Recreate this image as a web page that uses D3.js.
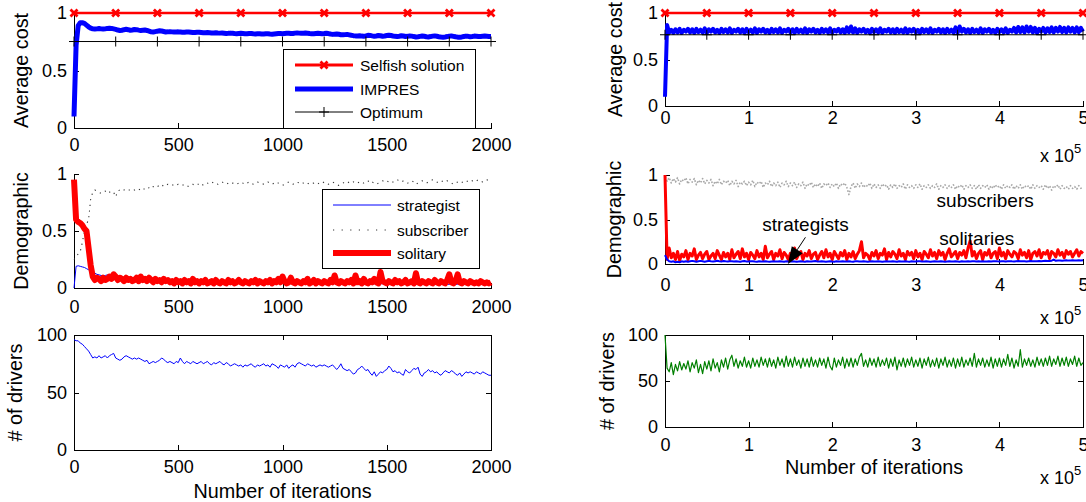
<!DOCTYPE html>
<html>
<head>
<meta charset="utf-8">
<script src="https://cdn.jsdelivr.net/npm/d3@7"></script>
<style>
  html, body { margin: 0; padding: 0; background: #fff; }
  svg { display: block; font-family: "Liberation Sans", Arial, Helvetica, sans-serif; }
</style>
</head>
<body>
<script>
// ---------- short run: 0..2000 iterations ----------
const shortMaxIter = 2000;
const shortXTicks = [0, 500, 1000, 1500, 2000];
const shortMarkerIters = [0, 200, 400, 600, 800, 1000, 1200, 1400, 1600, 1800, 2000];
const shortSelfish = [1, 1, 1, 1, 1, 1, 1, 1, 1, 1, 1];
const shortOptimum = [0.752, 0.752, 0.752, 0.752, 0.752, 0.752, 0.752, 0.752, 0.752, 0.752, 0.752];

// average cost of IMPRES, one value every 10 iterations
const shortImpres = [
  0.10, 0.72, 0.89, 0.915, 0.915, 0.91, 0.895, 0.88, 0.868, 0.862,
  0.86, 0.862, 0.865, 0.862, 0.86, 0.862, 0.866, 0.868, 0.866, 0.862,
  0.858, 0.852, 0.848, 0.85, 0.855, 0.858, 0.855, 0.85, 0.852, 0.856,
  0.855, 0.851, 0.848, 0.85, 0.852, 0.848, 0.842, 0.836, 0.834, 0.838,
  0.842, 0.845, 0.843, 0.839, 0.835, 0.836, 0.838, 0.836, 0.834, 0.835,
  0.836, 0.834, 0.832, 0.833, 0.835, 0.834, 0.832, 0.83, 0.831, 0.833,
  0.832, 0.83, 0.828, 0.829, 0.83, 0.828, 0.826, 0.827, 0.828, 0.826,
  0.825, 0.826, 0.824, 0.822, 0.823, 0.825, 0.823, 0.821, 0.82, 0.822,
  0.823, 0.821, 0.819, 0.82, 0.822, 0.821, 0.819, 0.818, 0.82, 0.819,
  0.817, 0.818, 0.82, 0.819, 0.817, 0.816, 0.818, 0.82, 0.822, 0.821,
  0.82, 0.822, 0.824, 0.823, 0.821, 0.822, 0.825, 0.826, 0.825, 0.823,
  0.824, 0.826, 0.824, 0.821, 0.819, 0.82, 0.822, 0.824, 0.822, 0.82,
  0.821, 0.823, 0.821, 0.817, 0.814, 0.816, 0.818, 0.815, 0.811, 0.81,
  0.812, 0.814, 0.81, 0.806, 0.803, 0.801, 0.8, 0.802, 0.799, 0.798,
  0.801, 0.806, 0.805, 0.801, 0.798, 0.8, 0.804, 0.802, 0.798, 0.8,
  0.804, 0.807, 0.804, 0.8, 0.797, 0.795, 0.798, 0.802, 0.8, 0.796,
  0.797, 0.801, 0.799, 0.795, 0.792, 0.794, 0.797, 0.8, 0.798, 0.794,
  0.792, 0.795, 0.799, 0.801, 0.798, 0.794, 0.791, 0.79, 0.792, 0.795,
  0.799, 0.801, 0.797, 0.793, 0.79, 0.789, 0.792, 0.796, 0.799, 0.797,
  0.794, 0.796, 0.799, 0.798, 0.795, 0.796, 0.798, 0.8, 0.798, 0.796, 0.796
];

// population shares, one value every 10 iterations
const shortStrategist = [
  0, 0.19, 0.195, 0.19, 0.185, 0.18, 0.17, 0.16, 0.15, 0.14,
  0.13, 0.12, 0.115, 0.11, 0.105, 0.11, 0.115, 0.11, 0.105, 0.1,
  0.095, 0.09, 0.085, 0.08, 0.078, 0.075, 0.072, 0.07, 0.068, 0.066,
  0.065, 0.064, 0.062, 0.06, 0.06, 0.058, 0.057, 0.056, 0.055, 0.055,
  0.054, 0.055, 0.053, 0.052, 0.054, 0.055, 0.056, 0.058, 0.06, 0.062,
  0.065, 0.068, 0.07, 0.07, 0.072, 0.07, 0.066, 0.062, 0.058, 0.055,
  0.052, 0.05, 0.05, 0.048, 0.047, 0.046, 0.045, 0.045, 0.044, 0.044,
  0.043, 0.044, 0.043, 0.042, 0.043, 0.044, 0.043, 0.042, 0.041, 0.042,
  0.043, 0.042, 0.041, 0.042, 0.043, 0.042, 0.041, 0.04, 0.041, 0.042,
  0.041, 0.04, 0.041, 0.042, 0.041, 0.04, 0.041, 0.042, 0.043, 0.044,
  0.045, 0.048, 0.05, 0.052, 0.055, 0.054, 0.05, 0.047, 0.045, 0.043,
  0.042, 0.041, 0.04, 0.041, 0.042, 0.041, 0.04, 0.039, 0.04, 0.041,
  0.04, 0.039, 0.04, 0.041, 0.04, 0.039, 0.038, 0.039, 0.04, 0.039,
  0.038, 0.039, 0.04, 0.039, 0.038, 0.037, 0.038, 0.039, 0.038, 0.037,
  0.038, 0.037, 0.036, 0.037, 0.038, 0.037, 0.036, 0.037, 0.038, 0.037,
  0.036, 0.037, 0.036, 0.035, 0.036, 0.037, 0.036, 0.035, 0.036, 0.035,
  0.034, 0.035, 0.036, 0.035, 0.034, 0.035, 0.034, 0.033, 0.034, 0.035,
  0.034, 0.033, 0.034, 0.035, 0.034, 0.033, 0.032, 0.033, 0.034, 0.033,
  0.032, 0.033, 0.034, 0.033, 0.032, 0.031, 0.032, 0.033, 0.032, 0.031,
  0.032, 0.031, 0.03, 0.031, 0.032, 0.031, 0.03, 0.031, 0.032, 0.031, 0.03
];
const shortSubscriber = [
  0.25, 0.27, 0.3, 0.32, 0.4, 0.5, 0.56, 0.6, 0.78, 0.84,
  0.86, 0.85, 0.84, 0.83, 0.84, 0.85, 0.83, 0.84, 0.85, 0.84,
  0.8, 0.85, 0.86, 0.85, 0.86, 0.87, 0.86, 0.86, 0.85, 0.86,
  0.87, 0.86, 0.87, 0.88, 0.86, 0.87, 0.88, 0.87, 0.89, 0.88,
  0.89, 0.9, 0.91, 0.89, 0.9, 0.91, 0.9, 0.9, 0.91, 0.9,
  0.91, 0.9, 0.9, 0.91, 0.9, 0.89, 0.9, 0.91, 0.9, 0.91,
  0.91, 0.92, 0.9, 0.91, 0.92, 0.91, 0.92, 0.93, 0.92, 0.91,
  0.92, 0.93, 0.92, 0.91, 0.92, 0.93, 0.92, 0.92, 0.91, 0.92,
  0.93, 0.92, 0.91, 0.92, 0.93, 0.92, 0.91, 0.92, 0.93, 0.92,
  0.92, 0.91, 0.92, 0.93, 0.92, 0.91, 0.92, 0.93, 0.92, 0.91,
  0.9, 0.91, 0.92, 0.93, 0.92, 0.91, 0.92, 0.93, 0.92, 0.93,
  0.92, 0.93, 0.92, 0.91, 0.92, 0.92, 0.93, 0.92, 0.91, 0.92,
  0.93, 0.92, 0.91, 0.92, 0.93, 0.92, 0.91, 0.9, 0.91, 0.92,
  0.93, 0.92, 0.93, 0.92, 0.93, 0.94, 0.93, 0.92, 0.93, 0.92,
  0.93, 0.94, 0.92, 0.93, 0.92, 0.91, 0.92, 0.93, 0.94, 0.93,
  0.94, 0.93, 0.92, 0.93, 0.94, 0.95, 0.94, 0.93, 0.94, 0.93,
  0.92, 0.93, 0.94, 0.93, 0.91, 0.92, 0.93, 0.94, 0.93, 0.92,
  0.93, 0.94, 0.95, 0.94, 0.93, 0.92, 0.93, 0.94, 0.93, 0.94,
  0.93, 0.92, 0.91, 0.92, 0.93, 0.94, 0.93, 0.92, 0.93, 0.94,
  0.95, 0.94, 0.93, 0.94, 0.95, 0.94, 0.93, 0.94, 0.95, 0.94, 0.94
];
const shortSolitary = [
  0.95, 0.6, 0.58, 0.57, 0.55, 0.52, 0.5, 0.35, 0.2, 0.1,
  0.07, 0.09, 0.08, 0.06, 0.09, 0.07, 0.08, 0.1, 0.08, 0.12,
  0.1, 0.07, 0.09, 0.08, 0.06, 0.09, 0.07, 0.08, 0.06, 0.07,
  0.09, 0.06, 0.1, 0.07, 0.08, 0.06, 0.09, 0.07, 0.05, 0.08,
  0.06, 0.07, 0.05, 0.08, 0.06, 0.07, 0.05, 0.06, 0.04, 0.07,
  0.05, 0.06, 0.04, 0.07, 0.05, 0.06, 0.04, 0.08, 0.05, 0.06,
  0.04, 0.06, 0.05, 0.07, 0.04, 0.05, 0.06, 0.04, 0.07, 0.05,
  0.04, 0.06, 0.05, 0.04, 0.07, 0.05, 0.06, 0.04, 0.05, 0.07,
  0.05, 0.04, 0.06, 0.05, 0.04, 0.06, 0.05, 0.07, 0.04, 0.06,
  0.05, 0.04, 0.06, 0.05, 0.07, 0.04, 0.06, 0.05, 0.08, 0.05,
  0.1, 0.06, 0.04, 0.05, 0.09, 0.05, 0.04, 0.06, 0.05, 0.04,
  0.06, 0.05, 0.08, 0.04, 0.05, 0.07, 0.04, 0.06, 0.05, 0.04,
  0.06, 0.05, 0.04, 0.07, 0.05, 0.11, 0.05, 0.04, 0.06, 0.05,
  0.04, 0.06, 0.05, 0.07, 0.04, 0.11, 0.05, 0.06, 0.04, 0.08,
  0.05, 0.04, 0.06, 0.05, 0.08, 0.05, 0.04, 0.14, 0.06, 0.05,
  0.04, 0.06, 0.05, 0.04, 0.07, 0.05, 0.06, 0.04, 0.05, 0.07,
  0.04, 0.05, 0.06, 0.04, 0.13, 0.05, 0.04, 0.06, 0.05, 0.04,
  0.06, 0.05, 0.04, 0.07, 0.05, 0.04, 0.06, 0.05, 0.04, 0.07,
  0.12, 0.05, 0.04, 0.06, 0.12, 0.05, 0.04, 0.06, 0.05, 0.04,
  0.06, 0.05, 0.04, 0.05, 0.04, 0.06, 0.05, 0.04, 0.05, 0.04, 0.05
];

// number of drivers, one value every 10 iterations
const shortDrivers = [
  96, 95, 95, 93, 92, 90, 88, 86, 83, 80,
  81, 80, 82, 80, 81, 82, 80, 82, 83, 84,
  80, 79, 78, 79, 81, 82, 81, 80, 79, 80,
  79, 80, 79, 78, 77, 78, 75, 76, 77, 76,
  77, 78, 80, 79, 77, 76, 77, 76, 75, 77,
  76, 80, 77, 75, 77, 76, 75, 77, 76, 75,
  76, 77, 75, 76, 77, 75, 74, 76, 75, 76,
  77, 75, 74, 76, 75, 73, 74, 75, 74, 73,
  74, 72, 74, 73, 74, 75, 73, 72, 74, 73,
  74, 75, 73, 74, 72, 75, 74, 73, 71, 74,
  73, 72, 74, 71, 73, 74, 72, 75, 76, 75,
  74, 73, 75, 74, 73, 74, 72, 73, 74, 73,
  74, 73, 72, 73, 74, 72, 70, 72, 75, 71,
  70, 69, 70, 68, 66, 67, 70, 71, 73, 71,
  69, 70, 67, 65, 68, 64, 66, 68, 67, 69,
  70, 73, 71, 68, 69, 67, 68, 66, 65, 70,
  68, 67, 69, 71, 70, 72, 66, 64, 67, 68,
  70, 68, 69, 67, 68, 66, 65, 67, 69, 68,
  67, 69, 68, 66, 65, 67, 64, 66, 68, 67,
  68, 67, 66, 68, 67, 66, 68, 67, 66, 65, 65
];

// ---------- long run: 0..5 x 10^5 iterations ----------
const longMax = 5;            // in units of 10^5 iterations
const longXTicks = [0, 1, 2, 3, 4, 5];
const longMarkerIters = [0, 0.5, 1, 1.5, 2, 2.5, 3, 3.5, 4, 4.5, 5];
const longSelfish = [1, 1, 1, 1, 1, 1, 1, 1, 1, 1, 1];
const longOptimum = [0.766, 0.766, 0.766, 0.766, 0.766, 0.766, 0.766, 0.766, 0.766, 0.766, 0.766];

// one value every 2500 iterations
const longImpres = [
  0.1, 0.87, 0.79, 0.82, 0.785, 0.825, 0.79, 0.83, 0.785, 0.82,
  0.8, 0.83, 0.79, 0.825, 0.785, 0.83, 0.795, 0.82, 0.79, 0.835,
  0.785, 0.825, 0.8, 0.83, 0.79, 0.82, 0.785, 0.83, 0.795, 0.825,
  0.79, 0.835, 0.785, 0.82, 0.8, 0.83, 0.79, 0.825, 0.785, 0.83,
  0.795, 0.82, 0.79, 0.835, 0.785, 0.825, 0.8, 0.83, 0.79, 0.82,
  0.785, 0.83, 0.795, 0.825, 0.79, 0.835, 0.785, 0.82, 0.8, 0.83,
  0.79, 0.825, 0.785, 0.83, 0.795, 0.82, 0.79, 0.835, 0.785, 0.825,
  0.8, 0.83, 0.79, 0.82, 0.785, 0.83, 0.795, 0.825, 0.79, 0.835,
  0.785, 0.82, 0.8, 0.83, 0.79, 0.825, 0.785, 0.845, 0.795, 0.855,
  0.79, 0.835, 0.785, 0.825, 0.8, 0.83, 0.79, 0.82, 0.785, 0.83,
  0.795, 0.825, 0.79, 0.835, 0.785, 0.82, 0.8, 0.83, 0.79, 0.825,
  0.785, 0.83, 0.795, 0.82, 0.79, 0.835, 0.785, 0.825, 0.8, 0.83,
  0.79, 0.82, 0.785, 0.83, 0.795, 0.825, 0.79, 0.835, 0.785, 0.82,
  0.8, 0.83, 0.79, 0.825, 0.785, 0.83, 0.795, 0.82, 0.79, 0.845,
  0.785, 0.855, 0.8, 0.83, 0.79, 0.825, 0.785, 0.83, 0.795, 0.82,
  0.79, 0.835, 0.785, 0.825, 0.8, 0.83, 0.79, 0.82, 0.785, 0.83,
  0.795, 0.825, 0.79, 0.835, 0.785, 0.82, 0.8, 0.84, 0.79, 0.85,
  0.795, 0.845, 0.79, 0.855, 0.8, 0.85, 0.79, 0.84, 0.785, 0.83,
  0.8, 0.84, 0.79, 0.835, 0.795, 0.845, 0.79, 0.84, 0.8, 0.85,
  0.795, 0.84, 0.79, 0.845, 0.8, 0.84, 0.79, 0.845, 0.795, 0.84, 0.8
];
const longSubscribers = [
  0.98, 0.93, 0.97, 0.91, 0.96, 0.92, 0.97, 0.9, 0.95, 0.93,
  0.97, 0.9, 0.95, 0.92, 0.96, 0.89, 0.94, 0.91, 0.96, 0.9,
  0.94, 0.91, 0.95, 0.88, 0.93, 0.9, 0.95, 0.89, 0.93, 0.91,
  0.94, 0.88, 0.93, 0.9, 0.94, 0.87, 0.92, 0.9, 0.93, 0.88,
  0.92, 0.89, 0.94, 0.87, 0.92, 0.9, 0.93, 0.86, 0.91, 0.89,
  0.93, 0.87, 0.91, 0.88, 0.92, 0.86, 0.91, 0.89, 0.93, 0.87,
  0.91, 0.88, 0.92, 0.86, 0.9, 0.88, 0.92, 0.85, 0.9, 0.88,
  0.92, 0.86, 0.9, 0.87, 0.91, 0.85, 0.9, 0.88, 0.91, 0.86,
  0.9, 0.87, 0.91, 0.85, 0.9, 0.88, 0.91, 0.86, 0.78, 0.87,
  0.91, 0.85, 0.9, 0.87, 0.91, 0.86, 0.89, 0.87, 0.91, 0.85,
  0.9, 0.86, 0.89, 0.85, 0.9, 0.87, 0.89, 0.84, 0.89, 0.86,
  0.9, 0.85, 0.88, 0.86, 0.9, 0.84, 0.89, 0.86, 0.88, 0.85,
  0.89, 0.86, 0.9, 0.84, 0.88, 0.86, 0.89, 0.85, 0.88, 0.86,
  0.9, 0.84, 0.88, 0.86, 0.89, 0.85, 0.88, 0.86, 0.89, 0.84,
  0.88, 0.86, 0.89, 0.84, 0.88, 0.86, 0.89, 0.85, 0.88, 0.84,
  0.89, 0.85, 0.88, 0.86, 0.89, 0.84, 0.88, 0.85, 0.89, 0.86,
  0.88, 0.84, 0.89, 0.85, 0.88, 0.86, 0.89, 0.84, 0.88, 0.85,
  0.89, 0.84, 0.88, 0.86, 0.88, 0.84, 0.89, 0.85, 0.88, 0.86,
  0.88, 0.84, 0.89, 0.85, 0.88, 0.83, 0.88, 0.86, 0.89, 0.84,
  0.88, 0.85, 0.87, 0.84, 0.88, 0.85, 0.87, 0.84, 0.88, 0.85, 0.86
];
const longSolitaries = [
  1.0, 0.05, 0.18, 0.07, 0.12, 0.05, 0.14, 0.04, 0.11, 0.08,
  0.15, 0.05, 0.12, 0.09, 0.17, 0.05, 0.1, 0.13, 0.06, 0.11,
  0.14, 0.05, 0.09, 0.12, 0.06, 0.15, 0.1, 0.05, 0.13, 0.08,
  0.12, 0.05, 0.16, 0.07, 0.11, 0.14, 0.06, 0.17, 0.08, 0.12,
  0.05, 0.13, 0.1, 0.06, 0.15, 0.08, 0.12, 0.05, 0.2, 0.07,
  0.11, 0.14, 0.05, 0.12, 0.09, 0.16, 0.06, 0.13, 0.1, 0.05,
  0.12, 0.08, 0.18, 0.06, 0.11, 0.14, 0.05, 0.12, 0.09, 0.15,
  0.06, 0.11, 0.13, 0.05, 0.1, 0.14, 0.07, 0.16, 0.08, 0.12,
  0.05, 0.14, 0.1, 0.06, 0.13, 0.09, 0.15, 0.05, 0.12, 0.08,
  0.14, 0.06, 0.11, 0.15, 0.25, 0.07, 0.12, 0.1, 0.05, 0.13,
  0.09, 0.15, 0.06, 0.12, 0.1, 0.17, 0.05, 0.13, 0.08, 0.14,
  0.11, 0.06, 0.16, 0.09, 0.12, 0.05, 0.14, 0.1, 0.13, 0.06,
  0.15, 0.08, 0.12, 0.05, 0.14, 0.11, 0.07, 0.16, 0.09, 0.13,
  0.06, 0.15, 0.1, 0.13, 0.05, 0.12, 0.17, 0.08, 0.11, 0.14,
  0.06, 0.13, 0.1, 0.15, 0.07, 0.18, 0.26, 0.09, 0.14, 0.06,
  0.12, 0.15, 0.05, 0.13, 0.1, 0.16, 0.07, 0.12, 0.14, 0.06,
  0.18, 0.09, 0.13, 0.06, 0.15, 0.11, 0.08, 0.14, 0.12, 0.06,
  0.16, 0.1, 0.13, 0.07, 0.15, 0.05, 0.12, 0.14, 0.09, 0.16,
  0.07, 0.13, 0.11, 0.15, 0.06, 0.14, 0.12, 0.08, 0.16, 0.1,
  0.13, 0.07, 0.15, 0.11, 0.14, 0.08, 0.12, 0.16, 0.09, 0.14, 0.12
];
const longStrategists = [
  0.1, 0.05, 0.03, 0.025, 0.03, 0.02, 0.025, 0.02, 0.03, 0.025,
  0.03, 0.025, 0.03, 0.035, 0.03, 0.025, 0.03, 0.035, 0.03, 0.025,
  0.03, 0.035, 0.03, 0.028, 0.032, 0.036, 0.03, 0.028, 0.033, 0.03,
  0.028, 0.032, 0.03, 0.027, 0.031, 0.029, 0.026, 0.03, 0.033, 0.029,
  0.027, 0.03, 0.032, 0.028, 0.026, 0.03, 0.029, 0.027, 0.031, 0.028,
  0.026, 0.029, 0.032, 0.028, 0.027, 0.03, 0.028, 0.026, 0.03, 0.029,
  0.027, 0.03, 0.028, 0.026, 0.029, 0.031, 0.028, 0.026, 0.03, 0.028,
  0.027, 0.03, 0.033, 0.029, 0.027, 0.03, 0.028, 0.026, 0.029, 0.031,
  0.028, 0.026, 0.03, 0.028, 0.027, 0.03, 0.029, 0.027, 0.031, 0.028,
  0.026, 0.03, 0.032, 0.029, 0.027, 0.03, 0.028, 0.026, 0.029, 0.031,
  0.028, 0.027, 0.03, 0.028, 0.026, 0.029, 0.031, 0.028, 0.027, 0.03,
  0.028, 0.026, 0.03, 0.029, 0.027, 0.031, 0.028, 0.026, 0.03, 0.028,
  0.027, 0.03, 0.032, 0.029, 0.027, 0.03, 0.028, 0.026, 0.029, 0.031,
  0.028, 0.027, 0.03, 0.028, 0.026, 0.029, 0.031, 0.028, 0.027, 0.03,
  0.028, 0.026, 0.03, 0.029, 0.027, 0.031, 0.028, 0.03, 0.032, 0.029,
  0.03, 0.028, 0.031, 0.029, 0.027, 0.03, 0.028, 0.03, 0.032, 0.03,
  0.029, 0.031, 0.03, 0.028, 0.03, 0.032, 0.03, 0.029, 0.031, 0.033,
  0.03, 0.032, 0.031, 0.029, 0.031, 0.033, 0.031, 0.03, 0.032, 0.034,
  0.032, 0.034, 0.036, 0.033, 0.035, 0.037, 0.05, 0.036, 0.038, 0.04,
  0.037, 0.039, 0.041, 0.038, 0.04, 0.042, 0.039, 0.04, 0.042, 0.04, 0.041
];
const longDrivers = [
  100, 64, 60, 70, 57, 68, 61, 71, 62, 69,
  63, 72, 60, 70, 64, 73, 59, 68, 58, 71,
  63, 72, 61, 74, 64, 70, 60, 73, 65, 75,
  63, 73, 78, 66, 74, 64, 72, 66, 76, 65,
  72, 64, 75, 66, 73, 65, 76, 67, 74, 65,
  75, 66, 73, 64, 76, 67, 74, 65, 77, 66,
  74, 65, 76, 67, 73, 64, 75, 66, 74, 65,
  76, 66, 73, 65, 75, 67, 74, 64, 76, 66,
  62, 75, 65, 73, 67, 76, 64, 74, 66, 75,
  65, 74, 67, 76, 80, 66, 73, 65, 75, 67,
  74, 65, 76, 66, 73, 67, 75, 64, 74, 66,
  76, 62, 73, 66, 75, 65, 74, 67, 76, 65,
  73, 66, 75, 64, 74, 67, 76, 65, 73, 66,
  75, 64, 74, 67, 76, 65, 73, 66, 75, 64,
  74, 66, 76, 65, 73, 67, 75, 66, 80, 65,
  74, 67, 75, 65, 73, 66, 76, 64, 74, 66,
  75, 65, 74, 67, 79, 66, 75, 64, 73, 66,
  84, 65, 74, 67, 75, 66, 73, 65, 76, 67,
  74, 66, 75, 67, 77, 66, 74, 68, 77, 66,
  75, 67, 76, 66, 74, 68, 77, 66, 75, 67, 70
];

// text annotations on the long-run demographic plot: [x (10^5), y]
const noteSubscribers = [3.83, 0.64];
const noteSolitaries = [3.73, 0.21];
const noteStrategists = [1.68, 0.37];
const arrowFrom = [1.68, 0.3];
const arrowTo = [1.47, 0.0];

// ---------- drawing ----------
const W = 1086, H = 502;
const svg = d3.select("body").append("svg").attr("width", W).attr("height", H);

const TICK_FONT = 18, LABEL_FONT = 19.8, LEGEND_FONT = 15.5;

function panel(cfg) {
  const x = d3.scaleLinear().domain(cfg.xDomain).range([cfg.left, cfg.right]);
  const y = d3.scaleLinear().domain(cfg.yDomain).range([cfg.bottom, cfg.top]);
  const g = svg.append("g");
  const axes = g.append("g");
  const style = sel => {
    sel.attr("font-family", null).attr("font-size", null);
    sel.selectAll("path.domain").attr("stroke", "#000").attr("stroke-width", 1).attr("shape-rendering", "crispEdges");
    sel.selectAll(".tick line").attr("stroke", "#000").attr("stroke-width", 1).attr("shape-rendering", "crispEdges");
    sel.selectAll(".tick text").attr("fill", "#000").style("font-size", TICK_FONT + "px");
  };
  axes.append("g").attr("transform", `translate(0,${cfg.bottom})`)
    .call(d3.axisBottom(x).tickValues(cfg.xTicks).tickSizeInner(-5).tickSizeOuter(0)
      .tickPadding(cfg.xPad).tickFormat(d3.format("~g"))).call(style);
  axes.append("g").attr("transform", `translate(${cfg.left},0)`)
    .call(d3.axisLeft(y).tickValues(cfg.yTicks).tickSizeInner(-5).tickSizeOuter(0)
      .tickPadding(7).tickFormat(d3.format("~g"))).call(style);
  if (cfg.box) {
    axes.append("g").attr("transform", `translate(0,${cfg.top})`)
      .call(d3.axisTop(x).tickValues(cfg.xTicks).tickSizeInner(-5).tickSizeOuter(0).tickFormat(""))
      .call(style);
    axes.append("g").attr("transform", `translate(${cfg.right},0)`)
      .call(d3.axisRight(y).tickValues(cfg.yTicks).tickSizeInner(-5).tickSizeOuter(0).tickFormat(""))
      .call(style);
  }
  // y title
  g.append("text")
    .attr("transform", `translate(${cfg.yTitleX},${(cfg.top + cfg.bottom) / 2}) rotate(-90)`)
    .attr("text-anchor", "middle").style("font-size", LABEL_FONT + "px").text(cfg.yTitle);
  if (cfg.xTitle) {
    g.append("text").attr("x", (cfg.left + cfg.right) / 2).attr("y", cfg.xTitleY)
      .attr("text-anchor", "middle").style("font-size", LABEL_FONT + "px").text(cfg.xTitle);
  }
  if (cfg.exponent) {
    const t = g.append("text").attr("x", cfg.right - 43).attr("y", cfg.exponentY)
      .style("font-size", TICK_FONT + "px");
    t.append("tspan").text("x 10");
    t.append("tspan").attr("dy", -9).style("font-size", "13px").text("5");
  }
  return { x, y, g };
}

function series(p, values, xMax, attrs) {
  const n = values.length;
  const line = d3.line().x((d, i) => p.x(i * xMax / (n - 1))).y(d => p.y(d));
  const path = p.g.append("path").datum(values).attr("d", line).attr("fill", "none")
    .attr("stroke-linejoin", "round");
  Object.entries(attrs).forEach(([k, v]) => path.attr(k, v));
  return path;
}

function markedLine(p, xs, ys, color, width, marker) {
  const line = d3.line().x((d, i) => p.x(xs[i])).y(d => p.y(d));
  p.g.append("path").datum(ys).attr("d", line).attr("fill", "none")
    .attr("stroke", color).attr("stroke-width", width);
  p.g.append("g").selectAll("path").data(ys).join("path")
    .attr("transform", (d, i) => `translate(${p.x(xs[i])},${p.y(d)})`)
    .attr("d", marker.d).attr("fill", "none").attr("stroke", color)
    .attr("stroke-width", marker.w);
}

const xMarker = { d: "M-3.5,-3.5L3.5,3.5M-3.5,3.5L3.5,-3.5", w: 2.8 };
const plusMarker = { d: "M-5,0H5M0,-5V5", w: 1 };

function legend(p, box, items) {
  const lg = p.g.append("g");
  lg.append("rect").attr("x", box.x0 + 0.5).attr("y", box.y0 + 0.5)
    .attr("width", box.x1 - box.x0).attr("height", box.y1 - box.y0)
    .attr("fill", "#fff").attr("stroke", "#000").attr("stroke-width", 1);
  items.forEach(it => {
    const l = lg.append("line").attr("x1", box.lineX0).attr("x2", box.lineX1)
      .attr("y1", it.y).attr("y2", it.y).attr("stroke", it.color).attr("stroke-width", it.width);
    if (it.dash) l.attr("stroke-dasharray", it.dash);
    if (it.marker) {
      lg.append("path").attr("transform", `translate(${(box.lineX0 + box.lineX1) / 2},${it.y})`)
        .attr("d", it.marker.d).attr("fill", "none").attr("stroke", it.color).attr("stroke-width", it.marker.w);
    }
    lg.append("text").attr("x", box.textX).attr("y", it.y + 5.5)
      .style("font-size", LEGEND_FONT + "px").text(it.label);
  });
}

// ----- left column: 2000 iterations -----
const L = { left: 74, right: 491 };
const costShort = panel({ ...L, top: 13, bottom: 128, xDomain: [0, shortMaxIter], yDomain: [0, 1],
  xTicks: shortXTicks, yTicks: [0, 0.5, 1], xPad: 10, yTitle: "Average cost", yTitleX: 28 });
markedLine(costShort, shortMarkerIters, shortSelfish, "#ff0000", 2.5, xMarker);
series(costShort, shortImpres, shortMaxIter, { stroke: "#0000ff", "stroke-width": 5 });
markedLine(costShort, shortMarkerIters, shortOptimum, "#000", 1, plusMarker);
legend(costShort, { x0: 283, x1: 475, y0: 49, y1: 128, lineX0: 295, lineX1: 353, textX: 360 }, [
  { y: 65, color: "#ff0000", width: 3, marker: xMarker, label: "Selfish solution" },
  { y: 89, color: "#0000ff", width: 5, label: "IMPRES" },
  { y: 112, color: "#000", width: 1, marker: plusMarker, label: "Optimum" }
]);

const demoShort = panel({ ...L, top: 174, bottom: 288, xDomain: [0, shortMaxIter], yDomain: [0, 1],
  xTicks: shortXTicks, yTicks: [0, 0.5, 1], xPad: 12, yTitle: "Demographic", yTitleX: 28 });
series(demoShort, shortStrategist, shortMaxIter, { stroke: "#0000ff", "stroke-width": 1 });
series(demoShort, shortSubscriber, shortMaxIter, { stroke: "#333", "stroke-width": 1.1, "stroke-dasharray": "1.2,4.5" });
series(demoShort, shortSolitary, shortMaxIter, { stroke: "#ff0000", "stroke-width": 6 });
legend(demoShort, { x0: 322, x1: 479, y0: 189, y1: 268, lineX0: 333, lineX1: 391, textX: 397 }, [
  { y: 205, color: "#0000ff", width: 1, label: "strategist" },
  { y: 230, color: "#333", width: 1.1, dash: "1.2,7.4", label: "subscriber" },
  { y: 253, color: "#ff0000", width: 6, label: "solitary" }
]);

const drvShort = panel({ ...L, top: 335, bottom: 450, xDomain: [0, shortMaxIter], yDomain: [0, 100],
  xTicks: shortXTicks, yTicks: [0, 50, 100], xPad: 10, box: true, yTitle: "# of drivers", yTitleX: 22,
  xTitle: "Number of iterations", xTitleY: 498 });
series(drvShort, shortDrivers, shortMaxIter, { stroke: "#0000ff", "stroke-width": 1 });

// ----- right column: 5 x 10^5 iterations -----
const R = { left: 665, right: 1083 };
const costLong = panel({ ...R, top: 13, bottom: 106, xDomain: [0, longMax], yDomain: [0, 1],
  xTicks: longXTicks, yTicks: [0, 0.5, 1], xPad: 5, yTitle: "Average cost", yTitleX: 622,
  exponent: true, exponentY: 162 });
markedLine(costLong, longMarkerIters, longSelfish, "#ff0000", 2.5, xMarker);
series(costLong, longImpres, longMax, { stroke: "#0000ff", "stroke-width": 4 });
markedLine(costLong, longMarkerIters, longOptimum, "#000", 1, plusMarker);

const demoLong = panel({ ...R, top: 175, bottom: 264, xDomain: [0, longMax], yDomain: [0, 1],
  xTicks: longXTicks, yTicks: [0, 0.5, 1], xPad: 14, yTitle: "Demographic", yTitleX: 621,
  exponent: true, exponentY: 324 });
series(demoLong, longSubscribers, longMax, { stroke: "#a8a8a8", "stroke-width": 1.6, "stroke-dasharray": "1.6,1.8" });
series(demoLong, longSolitaries, longMax, { stroke: "#ff0000", "stroke-width": 3 });
series(demoLong, longStrategists, longMax, { stroke: "#0000ff", "stroke-width": 2 });
[[noteSubscribers, "subscribers"], [noteSolitaries, "solitaries"], [noteStrategists, "strategists"]]
  .forEach(([pos, label]) => {
    demoLong.g.append("text").attr("x", demoLong.x(pos[0])).attr("y", demoLong.y(pos[1]))
      .attr("text-anchor", "middle").style("font-size", "19px").text(label);
  });
{
  const x0 = demoLong.x(arrowFrom[0]), y0 = demoLong.y(arrowFrom[1]);
  const x1 = demoLong.x(arrowTo[0]), y1 = demoLong.y(arrowTo[1]);
  const ang = Math.atan2(y1 - y0, x1 - x0), len = 17, half = 6.5;
  const bx = x1 - len * Math.cos(ang), by = y1 - len * Math.sin(ang);
  demoLong.g.append("line").attr("x1", x0).attr("y1", y0).attr("x2", bx).attr("y2", by)
    .attr("stroke", "#000").attr("stroke-width", 1);
  demoLong.g.append("path")
    .attr("d", `M${x1},${y1}L${bx + half * Math.sin(ang)},${by - half * Math.cos(ang)}L${bx - half * Math.sin(ang)},${by + half * Math.cos(ang)}Z`)
    .attr("fill", "#000");
}

const drvLong = panel({ ...R, top: 335, bottom: 427, xDomain: [0, longMax], yDomain: [0, 100],
  xTicks: longXTicks, yTicks: [0, 50, 100], xPad: 11, box: true, yTitle: "# of drivers", yTitleX: 614,
  xTitle: "Number of iterations", xTitleY: 474, exponent: true, exponentY: 484 });
series(drvLong, longDrivers, longMax, { stroke: "#008000", "stroke-width": 1.2 });
</script>
</body>
</html>
